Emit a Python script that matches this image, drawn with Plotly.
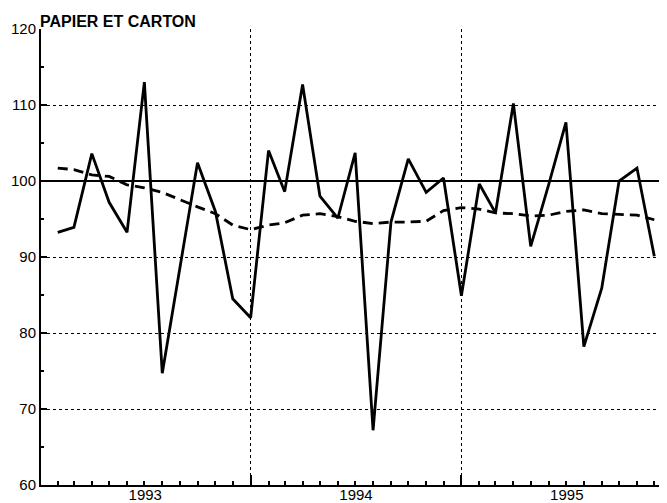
import plotly.graph_objects as go
import pandas as pd

# Monthly observations, Feb 1993 .. Dec 1995
months = list(pd.date_range("1993-02-01", periods=35, freq="MS"))

# Raw index (solid line)
indice = [93.25, 93.9, 103.6, 97.2, 93.25, 113.0, 74.7, 88.5, 102.4, 96.0,
          84.5, 82.0, 104.0, 98.6, 112.7, 98.0, 95.1, 103.7, 67.2, 94.6,
          102.9, 98.5, 100.4, 84.9, 99.6, 95.8, 110.2, 91.4, 99.5, 107.7,
          78.2, 85.9, 100.0, 101.7, 90.1]

# Trend (dashed line)
tendance = [101.7, 101.5, 100.8, 100.6, 99.5, 99.1, 98.5, 97.5, 96.6, 95.7,
            94.2, 93.6, 94.2, 94.5, 95.5, 95.7, 95.3, 94.7, 94.4, 94.6,
            94.6, 94.7, 96.1, 96.5, 96.3, 95.8, 95.7, 95.4, 95.5, 96.0,
            96.2, 95.7, 95.6, 95.5, 94.9]

y_ticks = [60, 70, 80, 90, 100, 110, 120]
title_text = "PAPIER ET CARTON"

fig = go.Figure()
fig.add_trace(go.Scatter(x=months, y=tendance, mode="lines",
                         line=dict(color="black", width=2.8, dash="10px,6px"),
                         showlegend=False))
fig.add_trace(go.Scatter(x=months, y=indice, mode="lines",
                         line=dict(color="black", width=2.8),
                         showlegend=False))

# solid reference line at 100
fig.add_shape(type="line", xref="paper", yref="y", x0=0, x1=1, y0=100, y1=100,
              line=dict(color="black", width=2), layer="below")

font = dict(family="Liberation Sans, Arial, sans-serif", size=15, color="black")

# The page body has an 8px margin, so the figure is sized to end at the window edge.
fig.update_layout(
    width=659, height=495,
    margin=dict(l=33, r=0, t=21, b=18, autoexpand=False),
    paper_bgcolor="white", plot_bgcolor="white",
    font=font,
    xaxis=dict(
        type="date", automargin=False,
        range=["1993-01-03", "1995-12-23"],
        tick0="1993-01-01", dtick="M12",
        tickformat="%Y", ticklabelmode="period",
        ticks="inside", ticklen=10, tickwidth=1.5, tickcolor="black",
        ticklabelstandoff=-5,
        showgrid=True, gridcolor="black", gridwidth=1, griddash="dot",
        showline=True, linecolor="black", linewidth=2,
        minor=dict(dtick="M1", tick0="1993-01-01", ticks="inside", ticklen=4,
                   tickwidth=1.5, tickcolor="black", showgrid=False),
        zeroline=False,
        tickfont=font,
    ),
    yaxis=dict(
        automargin=False,
        range=[60, 120],
        tickvals=y_ticks,
        ticks="inside", ticklen=6, tickwidth=1.5, tickcolor="black",
        ticklabelstandoff=0,
        showgrid=True, gridcolor="black", gridwidth=1, griddash="dot",
        showline=True, linecolor="black", linewidth=2,
        minor=dict(dtick=5, tick0=60, ticks="inside", ticklen=3,
                   tickwidth=1.5, tickcolor="black", showgrid=False),
        zeroline=False,
        tickfont=font,
    ),
    annotations=[dict(text=title_text, xref="paper", yref="paper",
                      x=0, y=1, xanchor="left", yanchor="bottom", align="left",
                      showarrow=False, xshift=-3, yshift=-3,
                      font=dict(family="Liberation Sans, Arial, sans-serif",
                                size=16, color="black", weight="bold"))],
)

fig.write_html("out.html")
